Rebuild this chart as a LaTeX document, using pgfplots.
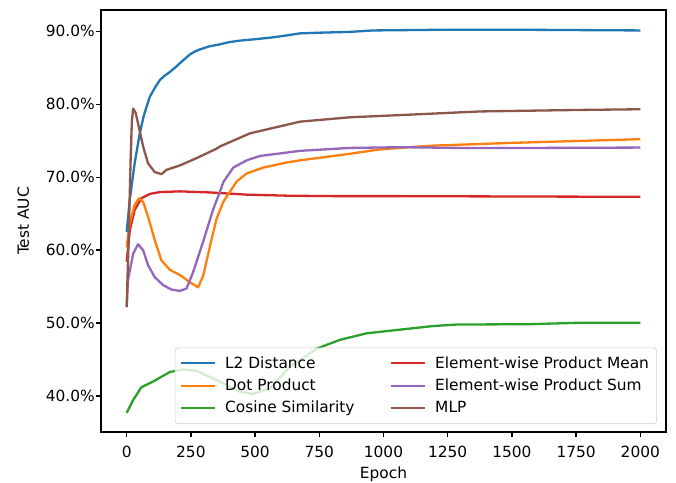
\documentclass[border=0pt]{standalone}
\usepackage{fontspec}
\setmainfont{DejaVu Sans}
\usepackage{pgfplots}
\pgfplotsset{compat=1.18}
\usetikzlibrary{calc}
\definecolor{tabblue}{HTML}{1F77B4}
\definecolor{taborange}{HTML}{FF7F0E}
\definecolor{tabgreen}{HTML}{2CA02C}
\definecolor{tabred}{HTML}{D62728}
\definecolor{tabpurple}{HTML}{9467BD}
\definecolor{tabbrown}{HTML}{8C564B}

\begin{document}
\begin{tikzpicture}
\begin{axis}[
  name=ax,
  scale only axis,
  width=367.2pt,
  height=274.3pt,
  xmin=-100, xmax=2100,
  ymin=35.07, ymax=92.9,
  xtick={0,250,500,750,1000,1250,1500,1750,2000},
  xticklabels={0,250,500,750,1000,1250,1500,1750,2000},
  ytick={40,50,60,70,80,90},
  yticklabels={40.0\%,50.0\%,60.0\%,70.0\%,80.0\%,90.0\%},
  scaled ticks=false,
  tick align=outside,
  tick pos=left,
  major tick length=3.5pt,
  every tick/.style={black, line width=0.8pt},
  axis line style={black, line width=0.8pt},
  font=\fontsize{10}{12}\selectfont,
  /pgf/number format/assume math mode=true,
  xticklabel style={anchor=base, inner sep=0pt, yshift=-12.75pt},
  yticklabel style={anchor=east, inner sep=0pt, xshift=-0.4pt},
  xlabel={Epoch},
  ylabel={Test AUC},
  every axis x label/.style={at={(axis description cs:0.5,0)}, anchor=base, yshift=-29.9pt},
  every axis y label/.style={at={(axis description cs:-0.1375,0.5)}, anchor=center, rotate=90},
  legend columns=2,
  legend cell align=left,
  legend style={
    at={(0.984,0.019)}, anchor=south east,
    draw=black!20, fill=white, fill opacity=0.8, text opacity=1, draw opacity=1,
    rounded corners=2pt, font=\fontsize{10}{12}\selectfont,
    inner xsep=3pt, inner ysep=3.5pt, row sep=1.5pt,
    /tikz/every odd column/.append style={column sep=4pt},
    /tikz/every even column/.append style={column sep=21pt},
  },
  legend image code/.code={\draw[#1] (0pt,0pt) -- (22pt,0pt);},
  every axis plot/.append style={line width=1.5pt, line join=round},
]
% L2 Distance
\addplot[tabblue, forget plot] coordinates {
  (0,62.5) (12,66.9) (31,71.9) (51,76.0) (65,78.2) (77,79.6) (90,81.0)
  (109,82.2) (129,83.3) (148,83.9) (168,84.4) (188,85.0) (207,85.6)
  (226,86.2) (246,86.8) (265,87.2) (285,87.5) (320,87.9) (363,88.2)
  (400,88.5) (440,88.7) (500,88.9) (557,89.1) (620,89.4) (675,89.7)
  (760,89.8) (869,89.9) (960,90.1) (1250,90.2) (1500,90.2) (1750,90.15)
  (2000,90.1)
};
% Element-wise Product Mean
\addplot[tabred, forget plot] coordinates {
  (0,58.4) (12,62.7) (31,65.5) (57,67.1) (90,67.7) (129,67.95) (207,68.05)
  (324,67.9) (467,67.6) (635,67.45) (800,67.4) (1000,67.4) (1500,67.35)
  (2000,67.3)
};
% Dot Product
\addplot[taborange, forget plot] coordinates {
  (0,60.4) (12,63.7) (31,66.2) (48,67.1) (64,66.6) (83,64.6) (109,61.4)
  (135,58.6) (168,57.3) (207,56.6) (246,55.6) (278,54.9) (298,56.5)
  (324,60.5) (350,64.3) (376,66.6) (402,68.0) (428,69.4) (467,70.5)
  (531,71.3) (622,72.0) (675,72.3) (869,73.2) (986,73.8) (1064,74.0)
  (1181,74.3) (1506,74.7) (2000,75.2)
};
% Element-wise Product Sum
\addplot[tabpurple, forget plot] coordinates {
  (0,52.2) (5,55.9) (25,59.5) (44,60.8) (64,60.0) (83,57.95) (109,56.3)
  (142,55.2) (174,54.6) (207,54.4) (233,54.75) (259,57.0) (298,61.2)
  (336,65.5) (363,68.0) (376,69.3) (415,71.3) (467,72.3) (519,72.9)
  (675,73.6) (869,74.0) (1064,74.1) (1300,74.0) (1600,74.0) (2000,74.05)
};
% Cosine Similarity
\addplot[tabgreen, forget plot] coordinates {
  (0,37.7) (25,39.45) (57,41.2) (103,42.0) (168,43.3) (220,43.65)
  (272,43.45) (350,42.2) (440,40.6) (492,40.3) (557,41.05) (635,44.0)
  (740,46.5) (830,47.7) (934,48.6) (1064,49.1) (1194,49.6) (1285,49.8)
  (1571,49.85) (1766,50.05) (2000,50.05)
};
% MLP
\addplot[tabbrown, forget plot] coordinates {
  (0,52.2) (8,62.0) (15,72.0) (20,77.5) (25,79.4) (35,78.8) (44,77.4)
  (64,74.2) (83,71.9) (109,70.7) (135,70.4) (155,71.0) (207,71.6)
  (272,72.6) (350,73.9) (363,74.2) (480,76.0) (675,77.6) (869,78.2)
  (1064,78.5) (1376,79.0) (1750,79.2) (2000,79.3)
};
\addlegendimage{tabblue, line width=1.5pt}
\addlegendentry{L2 Distance}
\addlegendimage{tabred, line width=1.5pt}
\addlegendentry{Element-wise Product Mean}
\addlegendimage{taborange, line width=1.5pt}
\addlegendentry{Dot Product}
\addlegendimage{tabpurple, line width=1.5pt}
\addlegendentry{Element-wise Product Sum}
\addlegendimage{tabgreen, line width=1.5pt}
\addlegendentry{Cosine Similarity}
\addlegendimage{tabbrown, line width=1.5pt}
\addlegendentry{MLP}
\end{axis}
\pgfresetboundingbox
\path ($(ax.south west)+(-65.65pt,-32.5pt)$) rectangle ($(ax.north east)+(6.5pt,6.5pt)$);
\end{tikzpicture}
\end{document}
